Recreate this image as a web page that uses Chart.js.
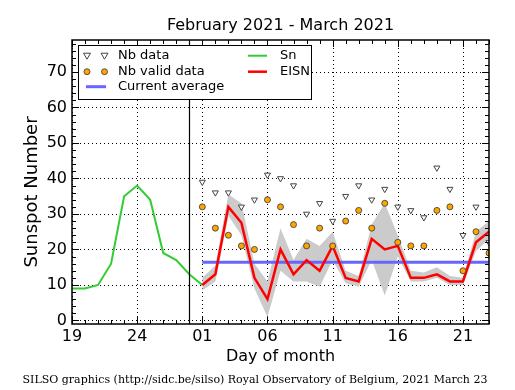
<!DOCTYPE html>
<html><head><meta charset="utf-8">
<script src="https://cdn.jsdelivr.net/npm/chart.js@4/dist/chart.umd.min.js"></script>
<style>html,body{margin:0;padding:0;background:#fff;}#wrap{width:515px;height:390px;position:relative;}</style>
</head><body><div id="wrap"><canvas id="c" width="515" height="390"></canvas></div>
<script>
// ---------- data ----------
const chartTitle = "February 2021 - March 2021";
const yTitle = "Sunspot Number";
const xTitle = "Day of month";
const footer = "SILSO graphics (http://sidc.be/silso) Royal Observatory of Belgium, 2021 March 23";
const days = ["19","20","21","22","23","24","25","26","27","28",
  "01","02","03","04","05","06","07","08","09","10","11","12","13","14","15","16","17","18","19","20","21","22","23"];
const xTickLabels = ["19","24","01","06","11","16","21"];
const yTickLabels = ["0","10","20","30","40","50","60","70"];
const monthStart = 10;      // index of 01 March
const separatorIndex = 9;   // 28 February
// Sn, 19 Feb .. 01 Mar
const snValues = [9, 9, 10, 16, 35, 38, 34, 19, 17, 13, 10];
// EISN, 01 Mar .. 23 Mar
const eisnValues = [10, 13, 32, 27.5, 12, 6, 20, 13, 17, 14, 21, 12, 11, 23, 20, 21, 12, 12, 13, 11, 11, 22, 25];
const eisnLow  = [8.5, 11, 29.5, 24, 9, 1, 14, 11, 11, 9.5, 17, 10.5, 9.5, 17, 7, 18, 11, 11, 12, 10, 10, 19.5, 23];
const eisnHigh = [12, 15.5, 35.5, 33, 16, 11, 26, 17, 23, 21, 25, 14, 12.5, 27, 33, 24, 14, 13.5, 15, 12.5, 12, 25, 28];
const nbData  = [39, 36, 36, 32, 34, 41, 40, 38, 30, 33, 28, 35, 38, 34, 37, 32, 31, 29, 43, 37, 24, 32, 22];
const nbValid = [32, 26, 24, 21, 20, 34, 32, 27, 21, 26, 21, 28, 31, 26, 33, 22, 21, 21, 31, 32, 14, 25, 19];
const currentAverage = 16.4;

// ---------- build ----------
const pts = (arr, off) => arr.map((v, i) => ({x: i + off, y: v}));
const lastIdx = days.length - 1;
const xTickPos = days.map((d, i) => i).filter(i => i % 5 === 0);
const yTickPos = yTickLabels.map(Number);

const FONT = "'DejaVu Sans', sans-serif";
const bandColor = '#cbcbcb';

const deco = {
  id: 'deco',
  beforeDatasetsDraw(chart) {
    const {ctx, chartArea: a, scales: {x, y}} = chart;
    ctx.save();
    ctx.strokeStyle = '#000'; ctx.lineWidth = 1; ctx.setLineDash([1, 3]);
    xTickPos.forEach(v => { const p = Math.round(x.getPixelForValue(v)) + 0.5;
      ctx.beginPath(); ctx.moveTo(p, a.top); ctx.lineTo(p, a.bottom); ctx.stroke(); });
    yTickPos.forEach(v => { const p = Math.round(y.getPixelForValue(v)) + 0.5;
      ctx.beginPath(); ctx.moveTo(a.left, p); ctx.lineTo(a.right, p); ctx.stroke(); });
    ctx.restore();
  },
  afterDatasetsDraw(chart) {
    const {ctx, chartArea: a, scales: {x, y}} = chart;
    ctx.save();
    // separator
    const sp = Math.round(x.getPixelForValue(separatorIndex)) + 0.5;
    ctx.strokeStyle = '#000'; ctx.lineWidth = 1.2;
    ctx.beginPath(); ctx.moveTo(sp, a.top); ctx.lineTo(sp, a.bottom); ctx.stroke();
    // ticks
    ctx.lineWidth = 1;
    for (let i = 0; i <= lastIdx; i++) {
      const p = Math.round(x.getPixelForValue(i)) + 0.5;
      const L = (i % 5 === 0) ? 7 : 4;
      ctx.beginPath(); ctx.moveTo(p, a.bottom); ctx.lineTo(p, a.bottom - L);
      ctx.moveTo(p, a.top); ctx.lineTo(p, a.top + L); ctx.stroke();
    }
    for (let v = 0; v <= 78; v += 2) {
      const p = Math.round(y.getPixelForValue(v)) + 0.5;
      const L = (v % 10 === 0) ? 7 : 4;
      ctx.beginPath(); ctx.moveTo(a.left, p); ctx.lineTo(a.left + L, p);
      ctx.moveTo(a.right, p); ctx.lineTo(a.right - L, p); ctx.stroke();
    }
    // frame
    ctx.lineWidth = 1.5;
    ctx.strokeRect(a.left, a.top, a.right - a.left, a.bottom - a.top);
    // legend
    const lx = 78.5, ly = 45.5, lw = 233, lh = 54;
    ctx.fillStyle = '#fff'; ctx.fillRect(lx, ly, lw, lh);
    ctx.lineWidth = 1; ctx.strokeStyle = '#000'; ctx.strokeRect(lx, ly, lw, lh);
    const r1 = 55.7, r2 = 71.7, r3 = 86.7;
    const tri = (cx, cy) => { ctx.beginPath(); ctx.moveTo(cx - 3.5, cy - 2.5); ctx.lineTo(cx + 3.5, cy - 2.5);
      ctx.lineTo(cx, cy + 3.5); ctx.closePath(); ctx.fillStyle = '#fff'; ctx.fill();
      ctx.strokeStyle = '#444'; ctx.lineWidth = 1; ctx.stroke(); };
    const circ = (cx, cy) => { ctx.beginPath(); ctx.arc(cx, cy, 3, 0, Math.PI * 2);
      ctx.fillStyle = '#ffa500'; ctx.fill(); ctx.strokeStyle = '#333'; ctx.lineWidth = 0.8; ctx.stroke(); };
    const seg = (x1, x2, yy, col, w) => { ctx.beginPath(); ctx.moveTo(x1, yy); ctx.lineTo(x2, yy);
      ctx.strokeStyle = col; ctx.lineWidth = w; ctx.stroke(); };
    tri(87, r1); tri(104.5, r1);
    circ(87, r2); circ(104.5, r2);
    seg(86, 106, r3, '#6666ff', 3);
    seg(248, 267, r1, '#33cc33', 2);
    seg(248, 267, r2, '#ff0000', 2.5);
    ctx.fillStyle = '#000'; ctx.font = "13px " + FONT; ctx.textBaseline = 'middle'; ctx.textAlign = 'left';
    ctx.fillText('Nb data', 118, r1); ctx.fillText('Nb valid data', 118, r2); ctx.fillText('Current average', 118, r3);
    ctx.fillText('Sn', 280, r1); ctx.fillText('EISN', 280, r2);
    ctx.restore();
  },
  afterDraw(chart) {
    const {ctx, chartArea: a} = chart;
    ctx.save();
    ctx.fillStyle = '#000'; ctx.textAlign = 'center'; ctx.textBaseline = 'middle';
    ctx.font = "16px " + FONT;
    ctx.fillText(chartTitle, (a.left + a.right) / 2, 26);
    ctx.fillText(xTitle, (a.left + a.right) / 2, 357);
    ctx.font = "11px 'DejaVu Serif', serif";
    ctx.fillText(footer, 255, 380);
    ctx.translate(32, 192); ctx.rotate(-Math.PI / 2);
    ctx.font = "18px " + FONT;
    ctx.fillText(yTitle, 0, 0);
    ctx.restore();
  }
};

new Chart(document.getElementById('c'), {
  type: 'line',
  data: {
    datasets: [
      {label: 'low', data: pts(eisnLow, monthStart), borderWidth: 0, pointRadius: 0, fill: false, order: 6, borderColor: 'rgba(0,0,0,0)'},
      {label: 'high', data: pts(eisnHigh, monthStart), borderWidth: 0, pointRadius: 0, fill: '-1', backgroundColor: bandColor, order: 5, borderColor: 'rgba(0,0,0,0)'},
      {label: 'Sn', data: pts(snValues, 0), borderColor: '#33cc33', borderWidth: 2, pointRadius: 0, order: 4},
      {label: 'Current average', data: [{x: monthStart, y: currentAverage}, {x: lastIdx, y: currentAverage}], borderColor: '#6666ff', borderWidth: 3, pointRadius: 0, order: 3},
      {label: 'EISN', data: pts(eisnValues, monthStart), borderColor: '#ff0000', borderWidth: 2.5, pointRadius: 0, order: 2},
      {label: 'Nb valid data', data: pts(nbValid, monthStart), showLine: false, pointStyle: 'circle', pointRadius: 3, backgroundColor: '#ffa500', borderColor: '#333', borderWidth: 0.8, order: 1},
      {label: 'Nb data', data: pts(nbData, monthStart), showLine: false, pointStyle: 'triangle', rotation: 180, pointRadius: 3.5, backgroundColor: '#fff', borderColor: '#444', borderWidth: 1, order: 0}
    ]
  },
  options: {
    responsive: false, animation: false, devicePixelRatio: 1,
    layout: {padding: {top: 40, right: 26, left: 0, bottom: 0}},
    elements: {line: {tension: 0}},
    plugins: {legend: {display: false}, tooltip: {enabled: false}, title: {display: false}},
    scales: {
      x: {type: 'linear', min: 0, max: lastIdx,
        grid: {display: false, drawTicks: false}, border: {display: false},
        afterBuildTicks: s => { s.ticks = xTickPos.map(v => ({value: v})); },
        afterFit: s => { s.height = 66; },
        ticks: {font: {family: FONT, size: 16}, color: '#000', padding: 3, maxRotation: 0, autoSkip: false,
          callback: (v, i) => xTickLabels[i]}},
      y: {type: 'linear', min: -1, max: 79,
        grid: {display: false, drawTicks: false}, border: {display: false},
        afterBuildTicks: s => { s.ticks = yTickPos.map(v => ({value: v})); },
        afterFit: s => { s.width = 72; },
        ticks: {font: {family: FONT, size: 16}, color: '#000', padding: 5,
          callback: (v, i) => yTickLabels[i]}}
    }
  },
  plugins: [deco]
});
</script></body></html>
